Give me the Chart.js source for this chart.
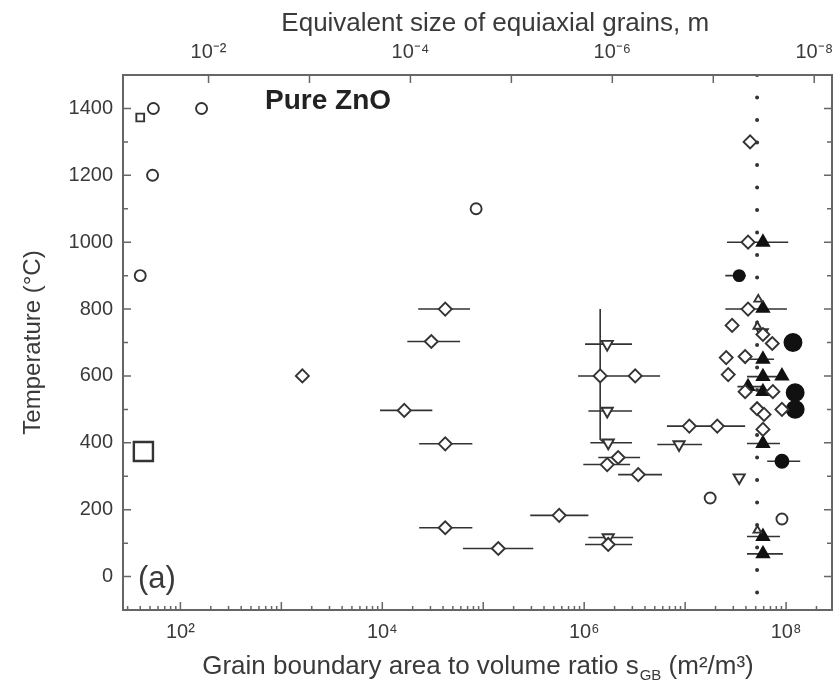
<!DOCTYPE html>
<html>
<head>
<meta charset="utf-8">
<title>Pure ZnO</title>
<script src="https://cdn.jsdelivr.net/npm/chart.js@4.4.0/dist/chart.umd.min.js"></script>
<style>
  body { margin: 0; background: #fff; }
  #wrap { width: 837px; height: 686px; }
</style>
</head>
<body>
<div id="wrap"><canvas id="grains"></canvas></div>
<script>
// [s_GB (m2/m3), temperature (C)] per marker family
var openCircles = [[54, 1400], [162, 1400], [53, 1200], [40, 900], [8.5e4, 1100], [1.77e7, 235], [9.1e7, 172]];
var smallSquares = [[40, 1373]];
var bigSquares = [[43, 374]];
var openDiamonds = [
  [1615, 600], [1.65e4, 497], [4.2e4, 800], [3.06e4, 703], [4.2e4, 397], [4.2e4, 146],
  [1.41e5, 84], [5.65e5, 183], [1.44e6, 600], [3.2e6, 600], [2.17e6, 356], [1.69e6, 335],
  [3.43e6, 305], [1.73e6, 96], [1.1e7, 450], [2.08e7, 450], [4.4e7, 1300], [4.2e7, 1000],
  [4.2e7, 800], [2.92e7, 751], [5.9e7, 724], [7.3e7, 697], [2.55e7, 655], [3.93e7, 658],
  [2.67e7, 604], [3.93e7, 553], [7.4e7, 553], [5.16e7, 502], [6.05e7, 485], [9.1e7, 500],
  [5.9e7, 440]
];
var downTriangles = [[1.69e6, 695], [1.69e6, 495], [1.73e6, 400], [1.73e6, 117], [8.7e6, 395], [3.43e7, 296], [5.8e7, 730]];
var upTriangles = [[5.3e7, 829], [5.2e7, 748], [5.2e7, 138]];
var solidTriangles = [[5.9e7, 1000], [5.9e7, 802], [5.9e7, 650], [5.9e7, 598], [9.1e7, 600], [4.2e7, 568], [5.9e7, 553], [5.9e7, 398], [5.9e7, 120], [5.9e7, 68]];
var solidDots = [[3.43e7, 900]];
var midDots = [[9.1e7, 345]];
var bigDots = [[1.17e8, 700], [1.23e8, 550], [1.23e8, 500]];

// horizontal scatter of s_GB: [low, high, T]
var errorBars = [
  [9.5e3, 3.13e4, 497], [2.27e4, 7.4e4, 800], [1.77e4, 5.9e4, 703], [2.32e4, 7.8e4, 397],
  [2.32e4, 7.8e4, 146], [6.3e4, 3.13e5, 84], [2.92e5, 1.1e6, 183], [8.7e5, 2.73e6, 600],
  [2.27e6, 5.65e6, 600], [1.38e6, 3.58e6, 356], [9.8e5, 2.85e6, 335], [2.17e6, 5.9e6, 305],
  [1.02e6, 2.98e6, 96], [6.6e6, 2.22e7, 450], [1.58e7, 3.93e7, 450], [2.6e7, 1.05e8, 1000],
  [2.5e7, 1.02e8, 800], [1.02e6, 2.98e6, 695], [1.1e6, 2.98e6, 495], [1.15e6, 2.98e6, 400],
  [1.1e6, 3.05e6, 117], [5.3e6, 1.47e7, 395], [4.1e7, 8.7e7, 598], [4.1e7, 8.7e7, 398],
  [4.1e7, 8.7e7, 120], [4.1e7, 9.3e7, 68], [3.3e7, 5.9e7, 568], [4.4e7, 7.6e7, 650],
  [2.5e7, 4.0e7, 900], [6.5e7, 1.38e8, 345]
];
// bracket tying the 400-800 C points together
var bracket = [[1.44e6, 800], [1.44e6, 410], [1.73e6, 390]];
var limitS = 5.16e7;

var sRange = [27, 2.85e8];
var tRange = [-100, 1500];
var bottomDecades = [2, 4, 6, 8];
var topDecades = [-2, -4, -6, -8];
var tempLabels = [0, 200, 400, 600, 800, 1000, 1200, 1400];
var sizeFactor = 1.9; // d = sizeFactor / s

var ink = '#333';
var textInk = '#3a3a3a';
var family = "'Liberation Sans', Arial, sans-serif";
Chart.defaults.font.family = family;

var supMap = { '-': '\u207B', '0': '\u2070', '1': '\u00B9', '2': '\u00B2', '3': '\u00B3', '4': '\u2074', '5': '\u2075', '6': '\u2076', '7': '\u2077', '8': '\u2078', '9': '\u2079' };
function pow10Label(e) {
  return '10' + String(e).split('').map(function (c) { return supMap[c]; }).join('');
}
function decadeOf(v) {
  var e = Math.round(Math.log10(v));
  return Math.abs(v / Math.pow(10, e) - 1) < 1e-6 ? e : null;
}
function pts(list) {
  return list.map(function (p) { return { x: p[0], y: p[1] }; });
}
function markers(label, list, style) {
  return Object.assign({ label: label, data: pts(list), showLine: false, order: 0, pointBorderColor: ink, pointBorderWidth: 1.9, pointHoverRadius: 0 }, style);
}
function noSidePadding(scale) {
  scale.paddingLeft = 0;
  scale.paddingRight = 0;
}

var barData = [];
errorBars.forEach(function (b) {
  barData.push({ x: b[0], y: b[2] }, { x: b[1], y: b[2] }, { x: b[1], y: null });
});

var datasets = [
  { label: 'limit', data: [{ x: limitS, y: tRange[1] }, { x: limitS, y: tRange[0] }], showLine: true, pointRadius: 0,
    borderColor: ink, borderWidth: 4, borderDash: [0, 22.5], borderCapStyle: 'round', order: 3 },
  { label: 'bars', data: barData, showLine: true, spanGaps: false, pointRadius: 0, borderColor: ink, borderWidth: 1.6, order: 2 },
  { label: 'bracket', data: pts(bracket), showLine: true, pointRadius: 0, borderColor: ink, borderWidth: 1.6, order: 2 },
  markers('circles', openCircles, { pointStyle: 'circle', pointRadius: 5.5, pointBackgroundColor: '#fff' }),
  markers('squares', smallSquares, { pointStyle: 'rect', pointRadius: 5.5, pointBackgroundColor: '#fff' }),
  markers('big squares', bigSquares, { pointStyle: 'rect', pointRadius: 13.5, pointBorderWidth: 2.4, pointBackgroundColor: '#fff' }),
  markers('diamonds', openDiamonds, { pointStyle: 'rectRot', pointRadius: 6.5, pointBackgroundColor: '#fff' }),
  markers('down', downTriangles, { pointStyle: 'triangle', pointRotation: 180, pointRadius: 6.5, pointBackgroundColor: '#fff' }),
  markers('up', upTriangles, { pointStyle: 'triangle', pointRadius: 4.5, pointBackgroundColor: '#fff' }),
  markers('solid triangles', solidTriangles, { pointStyle: 'triangle', pointRadius: 7, pointBackgroundColor: '#111', pointBorderColor: '#111' }),
  markers('dots', solidDots, { pointStyle: 'circle', pointRadius: 5.5, pointBackgroundColor: '#111', pointBorderColor: '#111' }),
  markers('mid dots', midDots, { pointStyle: 'circle', pointRadius: 6.5, pointBackgroundColor: '#111', pointBorderColor: '#111' }),
  markers('big dots', bigDots, { pointStyle: 'circle', pointRadius: 8.5, pointBackgroundColor: '#111', pointBorderColor: '#111' })
];

// frame, inward tick marks and the free text
var frameTicks = {
  id: 'frameTicks',
  afterDatasetsDraw: function (chart) {
    var a = chart.chartArea, ctx = chart.ctx;
    var sx = chart.scales.x, sx2 = chart.scales.x2, sy = chart.scales.y;
    ctx.save();
    ctx.strokeStyle = '#666';
    ctx.lineWidth = 2;
    ctx.strokeRect(a.left, a.top, a.right - a.left, a.bottom - a.top);
    ctx.lineWidth = 1.5;
    ctx.beginPath();
    sx.ticks.forEach(function (t) {
      var px = sx.getPixelForValue(t.value);
      if (px <= a.left + 1 || px >= a.right - 1) return;
      var len = decadeOf(t.value) !== null ? 8 : 4;
      ctx.moveTo(px, a.bottom); ctx.lineTo(px, a.bottom - len);
    });
    sx2.ticks.forEach(function (t) {
      var px = sx2.getPixelForValue(t.value);
      if (px <= a.left + 1 || px >= a.right - 1) return;
      ctx.moveTo(px, a.top); ctx.lineTo(px, a.top + 8);
    });
    sy.ticks.forEach(function (t) {
      var py = sy.getPixelForValue(t.value);
      if (py <= a.top + 1 || py >= a.bottom - 1) return;
      var len = t.value % 200 === 0 ? 8 : 5;
      ctx.moveTo(a.left, py); ctx.lineTo(a.left + len, py);
      ctx.moveTo(a.right, py); ctx.lineTo(a.right - len, py);
    });
    ctx.stroke();

    ctx.fillStyle = '#222';
    ctx.textBaseline = 'middle';
    ctx.textAlign = 'left';
    ctx.font = 'bold 28px ' + family;
    ctx.fillText('Pure ZnO', sx.getPixelForValue(690), sy.getPixelForValue(1421));
    ctx.fillStyle = textInk;
    ctx.font = '31px ' + family;
    ctx.fillText('(a)', sx.getPixelForValue(38), sy.getPixelForValue(-8));

    // axis titles
    ctx.textBaseline = 'alphabetic';
    ctx.textAlign = 'center';
    ctx.font = '26px ' + family;
    ctx.fillText('Equivalent size of equiaxial grains, m', a.left + (a.right - a.left) * 0.525, 31);

    var p1 = 'Grain boundary area to volume ratio s', sub = 'GB', p2 = ' (m\u00B2/m\u00B3)';
    var mainFont = '26px ' + family;
    var subFont = '15px ' + family;
    ctx.font = mainFont; var w1 = ctx.measureText(p1).width, w3 = ctx.measureText(p2).width;
    ctx.font = subFont; var w2 = ctx.measureText(sub).width;
    var x0 = (a.left + a.right) / 2 - (w1 + w2 + w3) / 2, base = 674;
    ctx.textAlign = 'left';
    ctx.font = mainFont; ctx.fillText(p1, x0, base);
    ctx.font = subFont; ctx.fillText(sub, x0 + w1 + 1, base + 6);
    ctx.font = mainFont; ctx.fillText(p2, x0 + w1 + w2 + 1, base);
    ctx.restore();
  }
};

new Chart(document.getElementById('grains'), {
  type: 'scatter',
  data: { datasets: datasets },
  options: {
    responsive: true,
    maintainAspectRatio: false,
    animation: false,
    devicePixelRatio: 1,
    layout: { autoPadding: false, padding: { left: 0, right: 5, top: 0, bottom: 0 } },
    plugins: { legend: { display: false }, tooltip: { enabled: false } },
    events: [],
    scales: {
      x: {
        type: 'logarithmic', position: 'bottom', min: sRange[0], max: sRange[1],
        grid: { display: false, drawTicks: false }, border: { display: false },
        ticks: {
          autoSkip: false, maxRotation: 0, padding: 10, color: textInk, font: { size: 20 },
          callback: function (v) {
            var e = decadeOf(v);
            return e !== null && bottomDecades.indexOf(e) >= 0 ? pow10Label(e) : '';
          }
        },
        afterBuildTicks: function (scale) {
          var ticks = [];
          for (var n = Math.floor(Math.log10(sRange[0])); n <= Math.ceil(Math.log10(sRange[1])); n++) {
            for (var m = 1; m <= 9; m++) {
              var v = m * Math.pow(10, n);
              if (v >= sRange[0] && v <= sRange[1]) ticks.push({ value: v });
            }
          }
          scale.ticks = ticks;
        },
        afterFit: function (scale) { scale.height = 76; noSidePadding(scale); }
      },
      x2: {
        type: 'logarithmic', position: 'top', reverse: true,
        min: sizeFactor / sRange[1], max: sizeFactor / sRange[0],
        grid: { display: false, drawTicks: false }, border: { display: false },
        ticks: {
          autoSkip: false, maxRotation: 0, padding: 11, color: textInk, font: { size: 20 },
          callback: function (v) {
            var e = decadeOf(v);
            return e !== null && topDecades.indexOf(e) >= 0 ? pow10Label(e) : '';
          }
        },
        afterBuildTicks: function (scale) {
          var ticks = [];
          for (var n = -8; n <= -2; n++) {
            var v = Math.pow(10, n);
            if (v >= scale.min && v <= scale.max) ticks.push({ value: v });
          }
          scale.ticks = ticks;
        },
        afterFit: function (scale) { scale.height = 75; noSidePadding(scale); }
      },
      y: {
        type: 'linear', min: tRange[0], max: tRange[1],
        grid: { display: false, drawTicks: false }, border: { display: false },
        ticks: {
          stepSize: 100, autoSkip: false, padding: 10, color: textInk, font: { size: 20 },
          callback: function (v) { return tempLabels.indexOf(v) >= 0 ? String(v) : ''; }
        },
        title: { display: true, text: 'Temperature (\u00B0C)', color: textInk, font: { size: 24 }, padding: { top: 19, bottom: 0 } },
        afterFit: function (scale) { scale.width = 123; }
      }
    }
  },
  plugins: [frameTicks]
});
</script>
</body>
</html>
